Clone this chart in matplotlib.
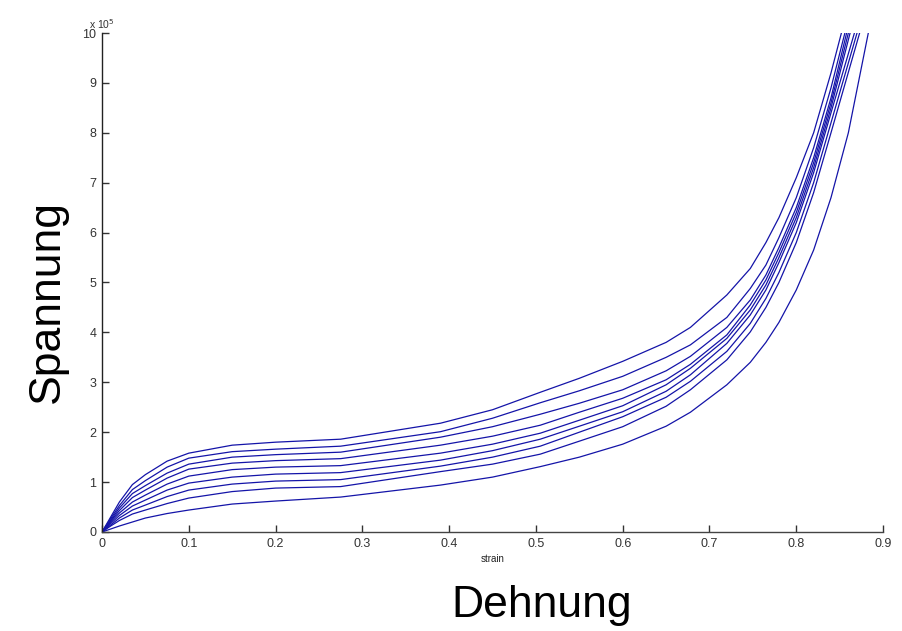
import matplotlib
matplotlib.use("Agg")
import matplotlib.pyplot as plt

# strain grid shared by all curves (up to 0.84), stress in units of 1e5
strain_grid = [0, 0.01, 0.02, 0.035, 0.05, 0.075, 0.1, 0.15, 0.2, 0.275,
               0.39, 0.45, 0.505, 0.55, 0.6, 0.65, 0.678, 0.72, 0.747, 0.765,
               0.78, 0.8, 0.82, 0.84]

curve1 = [0, 0.30, 0.60, 0.95, 1.15, 1.42, 1.58, 1.74, 1.80, 1.86, 2.18, 2.45, 2.80, 3.08, 3.42, 3.80, 4.10, 4.75, 5.28, 5.80, 6.30, 7.10, 8.00, 9.20]
curve2 = [0, 0.27, 0.53, 0.85, 1.03, 1.30, 1.48, 1.61, 1.66, 1.72, 2.01, 2.28, 2.59, 2.83, 3.12, 3.50, 3.75, 4.30, 4.88, 5.35, 5.90, 6.70, 7.70, 8.90]
curve3 = [0, 0.24, 0.48, 0.77, 0.93, 1.18, 1.36, 1.50, 1.55, 1.60, 1.90, 2.11, 2.36, 2.58, 2.85, 3.23, 3.52, 4.10, 4.65, 5.15, 5.70, 6.50, 7.50, 8.70]
curve4 = [0, 0.22, 0.43, 0.69, 0.84, 1.08, 1.26, 1.38, 1.43, 1.47, 1.74, 1.92, 2.14, 2.40, 2.68, 3.05, 3.36, 3.95, 4.55, 5.05, 5.60, 6.40, 7.40, 8.60]
curve5 = [0, 0.20, 0.38, 0.60, 0.74, 0.96, 1.12, 1.25, 1.30, 1.33, 1.58, 1.76, 1.98, 2.24, 2.53, 2.95, 3.28, 3.88, 4.45, 4.95, 5.50, 6.30, 7.30, 8.50]
curve6 = [0, 0.17, 0.33, 0.52, 0.64, 0.84, 0.98, 1.10, 1.16, 1.19, 1.44, 1.63, 1.86, 2.12, 2.41, 2.82, 3.15, 3.78, 4.35, 4.85, 5.40, 6.20, 7.20, 8.40]
curve7 = [0, 0.14, 0.28, 0.44, 0.54, 0.71, 0.84, 0.96, 1.02, 1.05, 1.32, 1.50, 1.72, 2.00, 2.31, 2.70, 3.02, 3.62, 4.18, 4.68, 5.20, 6.00, 7.00, 8.20]
curve8 = [0, 0.12, 0.23, 0.36, 0.44, 0.57, 0.68, 0.81, 0.88, 0.91, 1.21, 1.36, 1.56, 1.82, 2.11, 2.52, 2.85, 3.45, 4.01, 4.50, 5.00, 5.80, 6.80, 8.00]
curve9 = [0, 0.06, 0.12, 0.20, 0.28, 0.37, 0.44, 0.56, 0.62, 0.70, 0.94, 1.10, 1.31, 1.50, 1.76, 2.12, 2.40, 2.95, 3.40, 3.80, 4.20, 4.85, 5.65, 6.70]

# tail points (strain, stress) for each curve beyond 0.84
tails = [
    [(0.852, 10.0)],
    [(0.856, 10.0)],
    [(0.858, 10.0)],
    [(0.860, 10.0)],
    [(0.862, 10.0)],
    [(0.867, 10.0)],
    [(0.870, 10.0)],
    [(0.873, 10.0)],
    [(0.86, 8.0), (0.883, 10.0)],
]
curves = [curve1, curve2, curve3, curve4, curve5, curve6, curve7, curve8, curve9]

x_ticks = [0, 0.1, 0.2, 0.3, 0.4, 0.5, 0.6, 0.7, 0.8, 0.9]
x_tick_labels = ["0", "0.1", "0.2", "0.3", "0.4", "0.5", "0.6", "0.7", "0.8", "0.9"]
y_ticks = list(range(0, 11))
y_tick_labels = [str(v) for v in y_ticks]

plt.rcParams['font.family'] = ['Liberation Sans', 'DejaVu Sans']

fig = plt.figure(figsize=(9.02, 6.31), dpi=100)
ax = fig.add_axes([0.1131, 0.1569, 0.979 - 0.1131, 0.9477 - 0.1569])

for c, t in zip(curves, tails):
    xs = strain_grid + [p[0] for p in t]
    ys = c + [p[1] for p in t]
    ax.plot(xs, ys, color='#1414a8', lw=0.9, solid_joinstyle='round')

ax.set_xlim(0, 0.9)
ax.set_ylim(0, 10)
ax.set_xticks(x_ticks)
ax.set_xticklabels(x_tick_labels)
ax.set_yticks(y_ticks)
ax.set_yticklabels(y_tick_labels)

for s in ['top', 'right']:
    ax.spines[s].set_visible(False)
ax.spines['left'].set_color('#222222')
ax.spines['bottom'].set_color('#444444')
ax.spines['left'].set_linewidth(1.0)
ax.spines['bottom'].set_linewidth(1.0)
ax.tick_params(direction='in', length=5, width=1.0, colors='#333333',
               labelsize=9, pad=4)

ax.set_xlabel('strain', fontsize=7, color='#222222', labelpad=3)
ax.text(0.0, 1.005, r'x 10$^5$', transform=ax.transAxes, fontsize=7.5,
        color='#333333', ha='center', va='bottom')

fig.text(542 / 902, 1 - 605 / 631, 'Dehnung', fontsize=32, ha='center',
         va='center', color='black')
fig.text(47 / 902, 1 - 302 / 631, 'Spannung', fontsize=32, ha='center',
         va='center', rotation=90, color='black')

fig.savefig('out.png', dpi=100, facecolor='white')
